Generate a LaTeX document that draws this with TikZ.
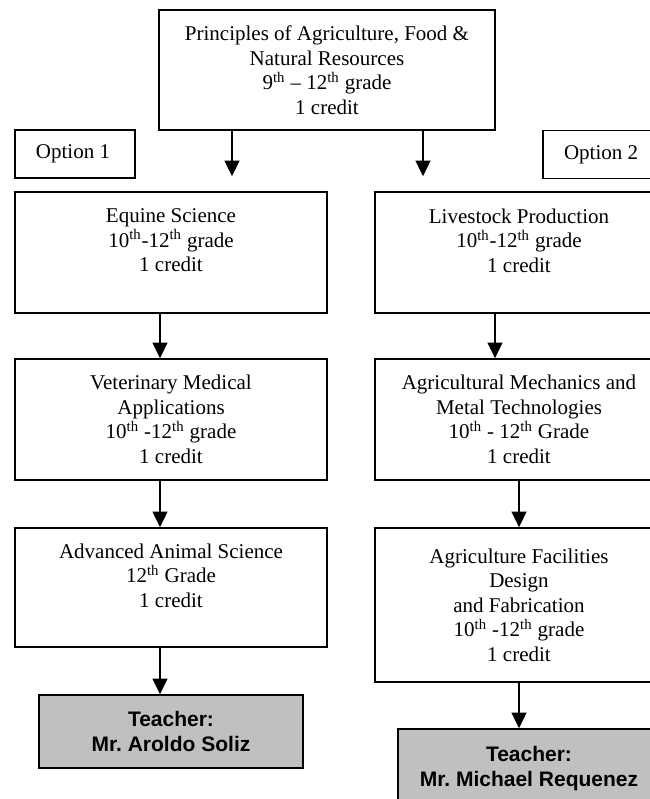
\documentclass[tikz,border=0pt]{standalone}
\usepackage{fontspec}
\setmainfont{Liberation Serif}
\newfontfamily\teacherfont{Liberation Sans}
\usetikzlibrary{arrows.meta}
\definecolor{silver}{HTML}{C0C0C0}
\frenchspacing

\begin{document}
\begin{tikzpicture}[node distance=100bp, >={Triangle[width=9bp,length=9.4bp]}, line width=1bp,
    block/.style={rectangle, draw, align=center, inner sep=0pt, minimum height=72.6bp, font=\fontsize{12.6bp}{14.7bp}\selectfont},
    optnode/.style={rectangle, draw, minimum height=28.8bp, text width=46.8bp, inner xsep=12.6bp, inner ysep=0pt, align=flush left, font=\fontsize{12.6bp}{14.7bp}\selectfont},
    teacher/.style={rectangle, draw, fill=silver, align=center, inner sep=0pt, font=\teacherfont\bfseries\fontsize{12.6bp}{15bp}\selectfont}]

    \useasboundingbox (-196.2bp,42bp) rectangle (193.8bp,-437.4bp);
    \clip (-196.2bp,42bp) rectangle (193.8bp,-437.4bp);

    \node[block, minimum width=201.6bp, minimum height=72bp] (princ) {Principles of Agriculture, Food \&\\Natural Resources\\9\textsuperscript{th} -- 12\textsuperscript{th} grade\\1 credit};

    % option 1
    \node[block, minimum width=187.2bp, below of=princ, node distance=109.5bp, xshift=-93.6bp] (equine) {Equine Science\\10\textsuperscript{th}-12\textsuperscript{th} grade\\1 credit\\~};
    \node[block, minimum width=187.2bp, below of=equine, node distance=100.2bp] (vet) {Veterinary Medical\\Applications\\10\textsuperscript{th} -12\textsuperscript{th} grade\\1 credit};
    \node[block, minimum width=187.2bp, minimum height=71.4bp, below of=vet, node distance=100.8bp] (adv) {Advanced Animal Science\\12\textsuperscript{th} Grade\\1 credit\\~};
    \node[teacher, minimum width=158.4bp, minimum height=43.8bp, below of=adv, node distance=86.4bp] (soliz) {Teacher:\\Mr. Aroldo Soliz};
    \node[optnode, above of=equine, node distance=59.1bp, xshift=-57.6bp] (opt1) {Option 1};

    % option 2
    \node[block, minimum width=172.8bp, right of=equine, node distance=208.8bp] (livestock) {Livestock Production\\10\textsuperscript{th}-12\textsuperscript{th} grade\\1 credit\\~};
    \node[block, minimum width=172.8bp, right of=vet, node distance=208.8bp] (agmech) {Agricultural Mechanics and\\Metal Technologies\\10\textsuperscript{th} - 12\textsuperscript{th} Grade\\1 credit};
    \node[block, minimum width=172.8bp, minimum height=92.4bp, below of=agmech, node distance=111.3bp] (facil) {Agriculture Facilities\\Design\\and Fabrication\\10\textsuperscript{th} -12\textsuperscript{th} grade\\1 credit};
    \node[teacher, minimum width=157.2bp, minimum height=48bp, below of=facil, node distance=98.4bp, xshift=6bp] (requenez) {Teacher:\\Mr. Michael Requenez};
    \node[optnode, above of=livestock, node distance=58.8bp, xshift=50.4bp] (opt2) {Option 2};

    \draw[->, shorten >=9bp] ([xshift=-57bp]princ.south) -- ([xshift=-57bp]princ.south |- equine.north);
    \draw[->, shorten >=9bp] ([xshift=57.6bp]princ.south) -- ([xshift=57.6bp]princ.south |- livestock.north);
    \draw[->] ([xshift=-6.6bp]equine.south) -- ([xshift=-6.6bp]vet.north);
    \draw[->] ([xshift=-6.6bp]vet.south) -- ([xshift=-6.6bp]adv.north);
    \draw[->] ([xshift=-6.6bp]adv.south) -- ([xshift=-6.6bp]soliz.north);
    \draw[->] ([xshift=-14.4bp]livestock.south) -- ([xshift=-14.4bp]agmech.north);
    \draw[->] (agmech.south) -- (facil.north);
    \draw[->] (facil.south) -- (facil.south |- requenez.north);
  \end{tikzpicture}
\end{document}
